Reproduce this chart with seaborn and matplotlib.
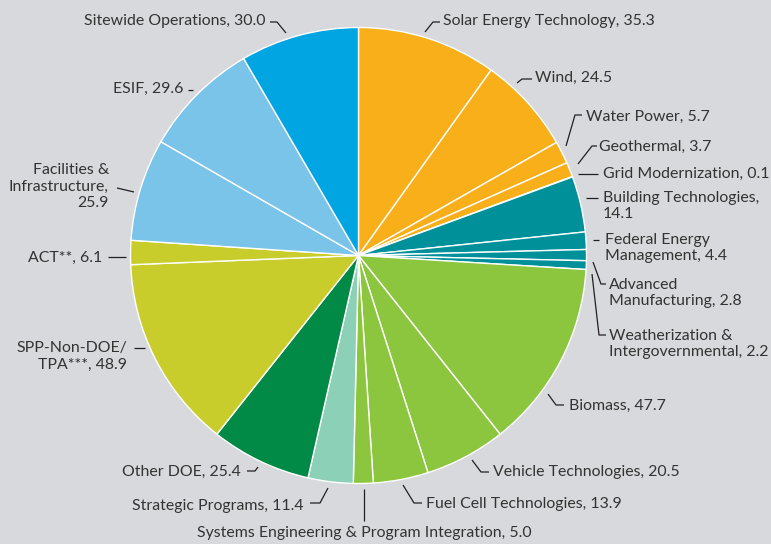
import matplotlib
matplotlib.use("Agg")
import matplotlib.pyplot as plt
import seaborn as sns

# data: funding by program
programs = [
    "Solar Energy Technology", "Wind", "Water Power", "Geothermal",
    "Grid Modernization", "Building Technologies", "Federal Energy\nManagement",
    "Advanced\nManufacturing", "Weatherization &\nIntergovernmental", "Biomass",
    "Vehicle Technologies", "Fuel Cell Technologies",
    "Systems Engineering & Program Integration", "Strategic Programs",
    "Other DOE", "SPP-Non-DOE/\nTPA***", "ACT**", "Facilities &\nInfrastructure",
    "ESIF", "Sitewide Operations",
]
values = [35.3, 24.5, 5.7, 3.7, 0.1, 14.1, 4.4, 2.8, 2.2, 47.7,
          20.5, 13.9, 5.0, 11.4, 25.4, 48.9, 6.1, 25.9, 29.6, 30.0]
groups = ["orange"] * 5 + ["teal"] * 4 + ["green"] * 4 + ["mint", "dkgreen",
          "olive", "olive", "ltblue", "ltblue", "blue"]

group_colors = {
    "orange": "#F8AF1A", "teal": "#00909A", "green": "#8CC63F",
    "mint": "#8DD0B8", "dkgreen": "#008A45", "olive": "#C8CD2C",
    "ltblue": "#7AC3E9", "blue": "#00A5E1",
}

sns.set_theme(style="white")
plt.rcParams['font.family'] = ['Lato', 'DejaVu Sans']

W, H = 771, 544
fig = plt.figure(figsize=(W / 100, H / 100), dpi=100)
bg = "#D7D9DC"
fig.patch.set_facecolor(bg)
ax = fig.add_axes([0, 0, 1, 1])
ax.set_facecolor(bg)


def py(y):
    # pixel row (from top) -> data y
    return H - y


ax.pie(values, colors=[group_colors[g] for g in groups], startangle=90,
       counterclock=False, center=(358.5, py(255.5)), radius=228,
       wedgeprops=dict(edgecolor="white", linewidth=1.0), frame=True)

ax.set_xlim(0, W)
ax.set_ylim(0, H)
ax.set_aspect("equal")
ax.axis("off")

# label layout: (text x, first-line centre y, alignment, leader path), pixels
layout = [
    (443, 21, "left", [(425, 32), (433, 22), (440, 22)]),
    (535, 78, "left", [(517, 83), (522, 79), (532, 79)]),
    (586, 117, "left", [(566, 146), (575, 115), (582, 115)]),
    (599, 147, "left", [(578, 164), (592, 146), (597, 146)]),
    (603, 174, "left", [(578, 174), (598, 174)]),
    (603, 198, "left", [(586, 198), (598, 198)]),
    (605, 240, "left", [(593, 240), (599, 240)]),
    (609, 285, "left", [(593, 262), (601, 284), (606, 284)]),
    (609, 336, "left", [(592, 274), (599, 335), (606, 335)]),
    (569, 406, "left", [(548, 394), (556, 405), (564, 405)]),
    (493, 472, "left", [(472, 460), (481, 472), (489, 472)]),
    (426, 504, "left", [(403, 485), (414, 503), (422, 503)]),
    (364, 533, "center", [(364, 489), (364, 521)]),
    (304, 506, "right", [(328, 488), (320, 503), (310, 503)]),
    (241, 472, "right", [(258, 467), (255, 471), (247, 471)]),
    (127, 348, "right", [(134, 348), (145, 348)]),
    (102, 258, "right", [(108, 257), (126, 257)]),
    (109, 170, "right", [(117, 188), (134, 192)]),
    (183, 89, "right", [(188, 90), (193, 90)]),
    (265, 21, "right", [(270, 22), (277, 22), (286, 33)]),
]

FS = 11.4
for name, val, (tx, ty, ha, path) in zip(programs, values, layout):
    if name.startswith("Facilities") or name == "Building Technologies":
        label = f"{name},\n{val:.1f}"
    else:
        label = f"{name}, {val:.1f}"
    if "\n" in label:
        ax.text(tx, py(ty - 7), label, ha=ha, va="top", multialignment=ha,
                fontsize=FS, color="#333333", linespacing=1.22)
    else:
        ax.text(tx, py(ty), label, ha=ha, va="center", fontsize=FS,
                color="#333333")
    xs = [p[0] for p in path]
    ys = [py(p[1]) for p in path]
    ax.plot(xs, ys, color="#231F20", lw=0.9, solid_capstyle="butt")

fig.savefig("out.png", dpi=100, facecolor=bg)
